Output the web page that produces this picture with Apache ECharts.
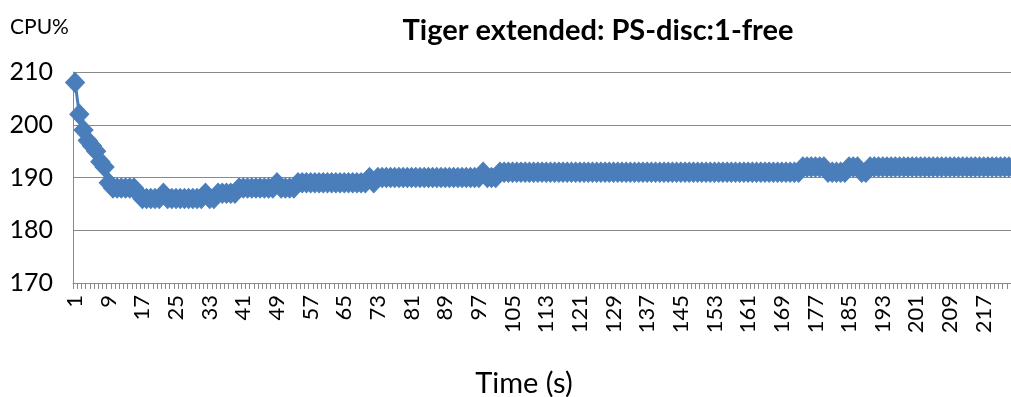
<!DOCTYPE html>
<html>
<head>
<meta charset="utf-8">
<script src="https://cdn.jsdelivr.net/npm/echarts@6/dist/echarts.min.js"></script>
<style>
  html, body { margin: 0; padding: 0; background: #fff; }
  #chart { width: 1011px; height: 397px; }
</style>
</head>
<body>
<div id="chart"></div>
<script>
// Sample index (seconds) along the x axis
const samples = [];
for (let i = 1; i <= 223; i++) samples.push(String(i));

// CPU% per sample, written as runs of [value, count]
const cpuRuns = [
  [208, 1], [202, 1], [199, 1], [197, 1], [196, 1], [195, 1], [193, 1], [192, 1], [189, 1],
  [188, 6], [187, 1], [186, 5], [187, 1], [186, 9], [187, 1], [186, 2], [187, 5],
  [188, 9], [189, 1], [188, 4], [189, 17], [190, 1], [189, 1], [190, 25], [191, 1],
  [190, 3], [191, 72], [192, 6], [191, 5], [192, 3], [191, 2], [192, 34]
];
const cpu = [];
cpuRuns.forEach(([v, n]) => { for (let k = 0; k < n; k++) cpu.push(v); });

const yTicks = { min: 170, max: 210, step: 10 };

const titleText = 'Tiger extended: PS-disc:1-free';
const yName = 'CPU%';
const xName = 'Time (s)';

const blue = '#4a7ebb';
const gridGray = '#8a8a8a';
const font = 'Lato, "Open Sans", sans-serif';

const chart = echarts.init(document.getElementById('chart'));
chart.setOption({
  animation: false,
  backgroundColor: '#fff',
  title: [
    {
      text: titleText,
      left: 593, top: 11, textAlign: 'center',
      textStyle: { fontFamily: font, fontWeight: 'bold', fontSize: 29, color: '#000' }
    },
    {
      text: yName,
      left: 10, top: 17, padding: 0,
      textStyle: { fontFamily: font, fontWeight: 'normal', fontSize: 21, color: '#000' }
    }
  ],
  grid: { left: 73, right: 0, top: 72, bottom: 114, containLabel: false, outerBoundsMode: 'none' },
  xAxis: {
    type: 'category',
    data: samples,
    boundaryGap: true,
    name: xName,
    nameLocation: 'middle',
    nameGap: 86,
    nameTextStyle: { fontFamily: font, fontSize: 29, color: '#000', padding: [0, 36, 0, 0] },
    axisLine: { lineStyle: { color: gridGray, width: 1 } },
    axisTick: { show: true, interval: 0, length: 6, lineStyle: { color: gridGray } },
    axisLabel: {
      interval: 7, rotate: 90, margin: 12,
      fontFamily: font, fontSize: 22, color: '#000'
    },
    splitLine: { show: false }
  },
  yAxis: {
    type: 'value',
    min: yTicks.min, max: yTicks.max, interval: yTicks.step,
    axisLine: { show: true, lineStyle: { color: gridGray, width: 1 } },
    axisTick: { show: false },
    axisLabel: { margin: 20, fontFamily: font, fontSize: 25, color: '#000' },
    splitLine: { lineStyle: { color: gridGray, width: 1 } }
  },
  series: [{
    type: 'line',
    data: cpu,
    symbol: 'diamond',
    symbolSize: [19, 20],
    showAllSymbol: true,
    clip: false,
    lineStyle: { color: blue, width: 3 },
    itemStyle: { color: blue, borderColor: blue, borderWidth: 1 }
  }]
});
</script>
</body>
</html>
